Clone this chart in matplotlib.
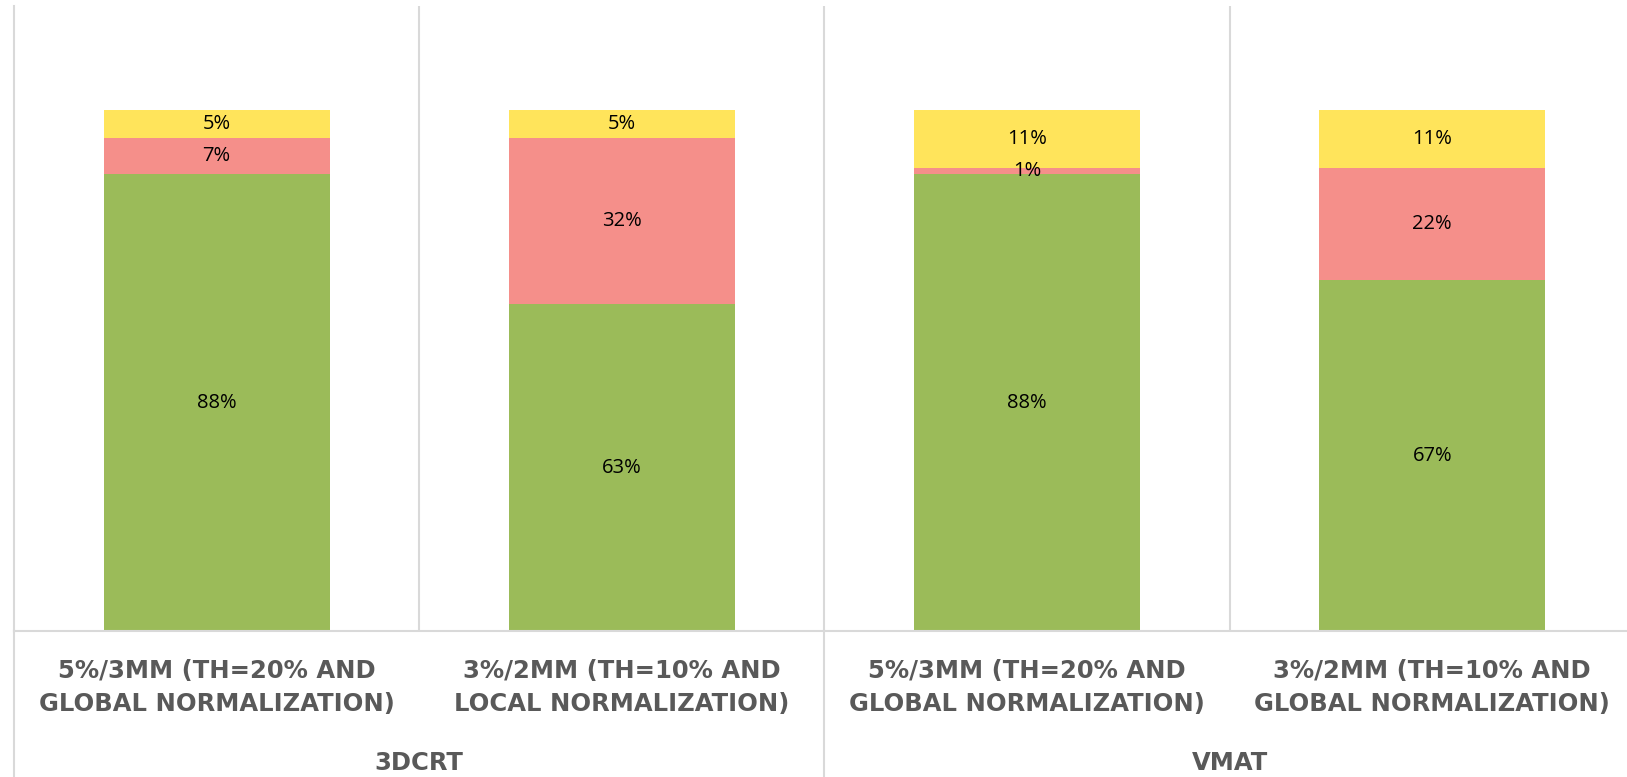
import matplotlib
matplotlib.use("Agg")
import matplotlib.pyplot as plt
import matplotlib.transforms as mtransforms
import numpy as np

# ---- data ----
categories = [
    "5%/3MM (TH=20% AND\nGLOBAL NORMALIZATION)",
    "3%/2MM (TH=10% AND\nLOCAL NORMALIZATION)",
    "5%/3MM (TH=20% AND\nGLOBAL NORMALIZATION)",
    "3%/2MM (TH=10% AND\nGLOBAL NORMALIZATION)",
]
groups = ["3DCRT", "VMAT"]
group_spans = [(0, 1), (2, 3)]
green_vals = [0.877, 0.627, 0.877, 0.673]
pink_vals = [0.069, 0.319, 0.012, 0.216]
yellow_vals = [0.054, 0.054, 0.111, 0.111]

colors = ["#9BBB59", "#F58F8A", "#FFE45B"]
grid_color = "#D9D9D9"
label_color = "#595959"

W, H, DPI = 1627, 777, 100
fig = plt.figure(figsize=(W / DPI, H / DPI), dpi=DPI)
ax_left = 14 / W
ax_bottom = 146 / H
ax_height = (631 - 6) / H
ax_width = 4 * 405.2 / W
ax = fig.add_axes([ax_left, ax_bottom, ax_width, ax_height])

x = np.arange(len(categories))
bw = 0.558
series = [green_vals, pink_vals, yellow_vals]
bottom = np.zeros(len(categories))
for vals, c in zip(series, colors):
    vals = np.array(vals)
    bars = ax.bar(x, vals, bw, bottom=bottom, color=c, zorder=2)
    labels = [f"{round(v*100):d}%" for v in vals]
    ax.bar_label(bars, labels=labels, label_type="center",
                 fontsize=14.5, family="Open Sans", color="#000000")
    bottom += vals

ax.set_xlim(-0.5, len(categories) - 0.5)
ax.set_ylim(0, 1.2)
ax.set_yticks([])

# gridlines at category boundaries
ax.set_xticks(x)
ax.set_xticklabels(categories, fontsize=17.5, family="DejaVu Sans",
                   fontweight="bold", color=label_color, linespacing=1.5)
ax.set_xticks(np.arange(0.5, len(categories) - 0.5, 1.0), minor=True)
ax.tick_params(axis="x", which="major", length=0, pad=20)
ax.tick_params(axis="x", which="minor", length=0)
ax.grid(which="minor", axis="x", color=grid_color, lw=1.5, zorder=0)

for side in ["top", "right"]:
    ax.spines[side].set_visible(False)
ax.spines["left"].set_color(grid_color)
ax.spines["left"].set_linewidth(1.5)
ax.spines["bottom"].set_color(grid_color)
ax.spines["bottom"].set_linewidth(1.5)

# outer group separator lines extending below axis
trans = mtransforms.blended_transform_factory(ax.transData, ax.transAxes)
bottom_frac = -ax_bottom / ax_height
for (a, b) in group_spans:
    ax.plot([a - 0.5, a - 0.5], [0, bottom_frac], transform=trans, color=grid_color,
            lw=1.5, clip_on=False, zorder=0)
ax.plot([group_spans[-1][1] + 0.5] * 2, [0, bottom_frac], transform=trans,
        color=grid_color, lw=1.5, clip_on=False, zorder=0)

# group labels
for g, (a, b) in zip(groups, group_spans):
    ax.text((a + b) / 2, -0.222, g, transform=trans, ha="center", va="baseline",
            fontsize=17.5, family="DejaVu Sans", fontweight="bold", color=label_color)

fig.savefig("out.png", dpi=DPI)
